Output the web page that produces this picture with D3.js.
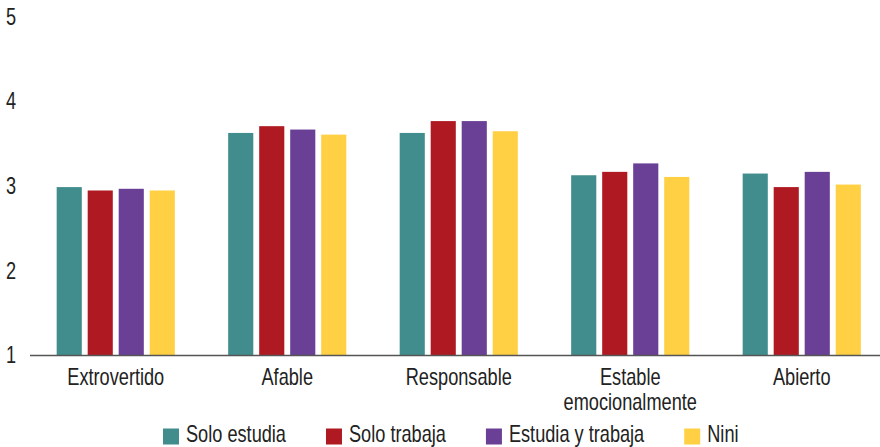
<!DOCTYPE html>
<html>
<head>
<meta charset="utf-8">
<script src="https://cdn.jsdelivr.net/npm/d3@7"></script>
<style>
  html, body { margin: 0; padding: 0; background: #fff; }
  svg { display: block; }
  text { font-family: "Liberation Sans", Arial, sans-serif; fill: #222; }
</style>
</head>
<body>
<svg id="chart" width="880" height="447"></svg>
<script>
const categories = ["Extrovertido", "Afable", "Responsable", "Estable emocionalmente", "Abierto"];
const series = ["Solo estudia", "Solo trabaja", "Estudia y trabaja", "Nini"];
const soloEstudia = [2.99, 3.63, 3.63, 3.13, 3.15];
const soloTrabaja = [2.95, 3.71, 3.77, 3.17, 2.99];
const estudiaYTrabaja = [2.97, 3.67, 3.77, 3.27, 3.17];
const nini = [2.95, 3.61, 3.65, 3.11, 3.02];
const yTicks = [1, 2, 3, 4, 5];
const colors = ["#418C8C", "#AF1A22", "#6A3F96", "#FFCF44"];

const values = [soloEstudia, soloTrabaja, estudiaYTrabaja, nini];
const data = categories.map((c, i) => ({
  cat: c,
  vals: series.map((s, j) => ({ s, v: values[j][i] }))
}));

const svg = d3.select("#chart");
const fontSize = 23;
const narrow = 0.79; // horizontal condensing of text
const FONT = '"Liberation Sans", Arial, sans-serif';

const x0 = d3.scaleBand().domain(categories).range([30, 887.5]).padding(0);
const x1 = d3.scaleBand().domain(series).range([0, x0.bandwidth()])
  .paddingInner(0.19).paddingOuter(0.86);
const y = d3.scaleLinear().domain([1, 5]).range([355.5, 17]);
const color = d3.scaleOrdinal().domain(series).range(colors);

// bars
const g = svg.append("g");
g.selectAll("g.cat").data(data).join("g")
  .attr("class", "cat")
  .attr("transform", d => `translate(${x0(d.cat)},0)`)
  .selectAll("rect").data(d => d.vals).join("rect")
  .attr("x", d => x1(d.s))
  .attr("width", x1.bandwidth())
  .attr("y", d => y(d.v))
  .attr("height", d => y(1) - y(d.v))
  .attr("fill", d => color(d.s));

// baseline
svg.append("line")
  .attr("x1", 30).attr("x2", 880)
  .attr("y1", y(1)).attr("y2", y(1))
  .attr("stroke", "#555").attr("stroke-width", 1.6);

// y axis labels
const yAxis = svg.append("g")
  .attr("transform", "translate(16,0)")
  .call(d3.axisLeft(y).tickValues(yTicks).tickSize(0).tickPadding(0).tickFormat(d3.format("d")));
yAxis.select(".domain").remove();
yAxis.selectAll("text")
  .style("font-size", fontSize + "px").style("font-family", FONT)
  .attr("fill", "#222").attr("x", 0)
  .attr("transform", `scale(${narrow},1)`);

// x axis labels
const xAxis = svg.append("g")
  .attr("transform", `translate(0,${y(1)})`)
  .call(d3.axisBottom(x0).tickSize(0).tickPadding(0));
xAxis.select(".domain").remove();
xAxis.selectAll("text")
  .style("font-size", fontSize + "px").style("font-family", FONT)
  .attr("fill", "#222")
  .attr("x", 0).attr("y", 29.5).attr("dy", 0)
  .attr("transform", `scale(${narrow},1)`)
  .each(function(d) {
    const t = d3.select(this);
    const words = d.split(" ");
    if (words.length > 1 && d.length > 14) {
      t.text(null);
      words.forEach((w, i) => {
        t.append("tspan").attr("x", 0).attr("dy", i === 0 ? 0 : 25).text(w);
      });
    }
  });

// legend
const legend = svg.append("g").attr("class", "legend");
let lx = 163;
series.forEach((s) => {
  const item = legend.append("g").attr("transform", `translate(${lx},0)`);
  item.append("rect").attr("x", 0).attr("y", 428.5).attr("width", 16).attr("height", 16)
    .attr("fill", color(s));
  const t = item.append("g").attr("transform", "translate(23,442)")
    .append("text").attr("x", 0).attr("y", 0)
    .attr("transform", `scale(${narrow},1)`)
    .style("font-size", fontSize + "px").text(s);
  const w = t.node().getComputedTextLength() * narrow;
  lx += 23 + w + 40;
});
</script>
</body>
</html>
